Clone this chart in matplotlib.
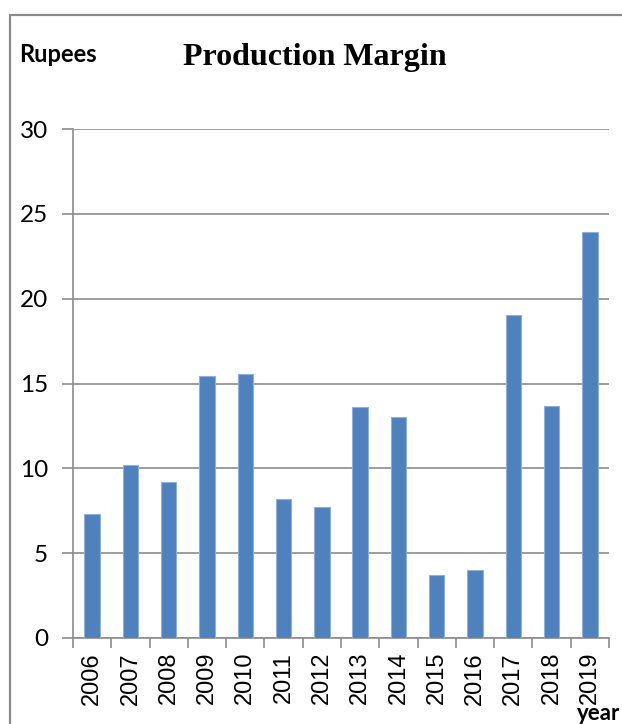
import matplotlib
matplotlib.use('Agg')
import matplotlib.pyplot as plt
import numpy as np
from matplotlib.patches import Rectangle

years = ['2006', '2007', '2008', '2009', '2010', '2011', '2012',
         '2013', '2014', '2015', '2016', '2017', '2018', '2019']
margin = [7.3, 10.2, 9.2, 15.45, 15.55, 8.2, 7.75,
          13.6, 13.0, 3.7, 4.0, 19.05, 13.65, 23.9]
yticks = [0, 5, 10, 15, 20, 25, 30]

bar_color = '#4F81BD'
grid_color = '#8c8c8c'

fig = plt.figure(figsize=(6.22, 7.24), dpi=100)
ax = fig.add_axes([73/622, 1 - 638/724, (609 - 73)/622, (638 - 129)/724])

x = np.arange(len(years))
ax.bar(x, margin, width=0.40, color=bar_color, edgecolor='#8fb0d8', linewidth=0.8, zorder=3)

ax.set_xlim(-0.5, len(years) - 0.5)
ax.set_ylim(0, 30)
ax.set_yticks(yticks)
ax.set_yticklabels([str(t) for t in yticks], fontfamily='Lato', fontsize=17.5)
ax.yaxis.grid(True, color=grid_color, linewidth=1.2, zorder=0)

ax.set_xticks(x)
ax.set_xticklabels(years, rotation=90, fontfamily='Liberation Sans', fontsize=17)
ax.set_xticks(np.arange(-0.5, len(years)), minor=True)
ax.tick_params(axis='x', which='major', length=0, pad=10)
ax.tick_params(axis='x', which='minor', length=7, color=grid_color, width=1.2)
ax.tick_params(axis='y', length=8, color=grid_color, width=1.2, pad=10)

for s in ['top', 'right']:
    ax.spines[s].set_visible(False)
for s in ['left', 'bottom']:
    ax.spines[s].set_color(grid_color)
    ax.spines[s].set_linewidth(1.2)

# chart frame (extends beyond the image on the right and bottom)
fig.patches.append(Rectangle((10/622, -0.05), 1.2, 1 - 15/724 + 0.05,
                             transform=fig.transFigure, fill=False,
                             edgecolor='#8a8a8a', linewidth=1.6))

fig.text(315/622, 1 - 57/724, 'Production Margin', ha='center', va='center',
         fontfamily='Liberation Serif', fontweight='bold', fontsize=23)
fig.text(19/622, 1 - 55/724, 'Rupees', ha='left', va='center',
         fontfamily='Lato', fontweight='bold', fontsize=17)
fig.text(620/622, 1 - 714/724, 'year', ha='right', va='center',
         fontfamily='Lato', fontweight='bold', fontsize=16)

fig.savefig('out.png', dpi=100)
